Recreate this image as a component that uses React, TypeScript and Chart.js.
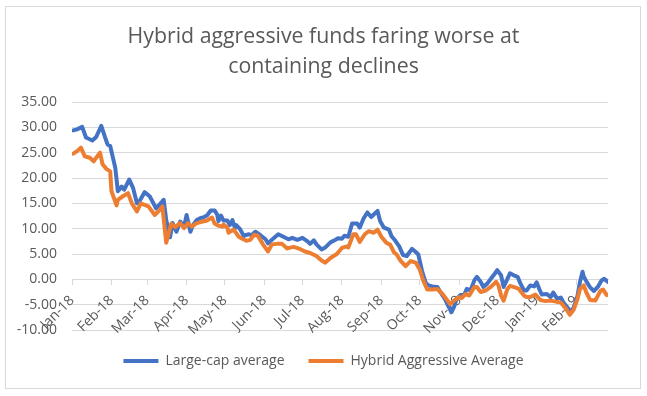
import React, { useEffect, useRef } from "react";
import { Chart, registerables } from "chart.js";

Chart.register(...registerables);

const MONTHS = ["Jan", "Feb", "Mar", "Apr", "May", "Jun", "Jul", "Aug", "Sep", "Oct", "Nov", "Dec"];
const START = Date.UTC(2018, 0, 1);
const DAY_MS = 86400000;

const titleLines = ["Hybrid aggressive funds faring worse at", "containing declines"];

const monthLabels = [
  "Jan-18", "Feb-18", "Mar-18", "Apr-18", "May-18", "Jun-18", "Jul-18",
  "Aug-18", "Sep-18", "Oct-18", "Nov-18", "Dec-18", "Jan-19", "Feb-19",
];

const yTickMin = -10;
const yTickMax = 35;
const yTickStep = 5;
const lastDay = 421; // days since 1 Jan 2018 (last data point)

// days since 1 Jan 2018
const largeCapDays = [
  1, 4, 8, 11, 16, 19, 23, 26, 28, 30, 34, 36, 39, 41, 45, 48, 51, 53, 57, 61,
  64, 66, 71, 72, 74, 77, 79, 82, 85, 88, 90, 93, 95, 98, 101, 103, 106, 109, 112, 114,
  115, 117, 119, 122, 124, 126, 128, 129, 132, 135, 136, 139, 141, 144, 148, 152, 154, 157, 162, 166,
  170, 173, 177, 181, 185, 187, 190, 192, 196, 199, 203, 207, 209, 212, 214, 217, 220, 224, 226, 229,
  232, 235, 237, 240, 242, 245, 249, 251, 254, 257, 260, 263, 267, 270, 272, 275, 278, 280, 283, 287,
  289, 293, 296, 298, 300, 302, 305, 308, 310, 313, 316, 318, 321, 323, 326, 329, 332, 334, 337, 339,
  342, 344, 347, 350, 352, 355, 357, 360, 363, 365, 367, 369, 373, 376, 378, 381, 384, 386, 389, 391,
  394, 397, 399, 401, 402, 404, 407, 410, 413, 416, 418, 421,
];
const largeCapValues = [
  29.4, 29.6, 30.1, 28.0, 27.4, 28.1, 30.3, 28.0, 26.6, 26.3, 22.0, 17.4, 18.3, 17.7, 19.7, 18.0, 15.0, 15.4, 17.2, 16.4,
  15.0, 14.0, 15.4, 15.7, 11.7, 8.3, 11.1, 9.4, 11.4, 10.4, 12.7, 9.4, 10.7, 11.7, 12.1, 12.2, 12.6, 13.6, 13.6, 12.8,
  11.5, 12.6, 11.6, 11.6, 10.7, 11.7, 10.1, 10.7, 9.9, 8.5, 8.7, 8.9, 8.7, 9.4, 8.7, 7.9, 7.1, 7.8, 8.9, 8.4,
  7.9, 8.2, 7.8, 8.2, 7.5, 7.0, 7.7, 6.9, 5.9, 6.3, 7.3, 7.8, 8.1, 8.0, 8.6, 8.4, 11.0, 11.0, 10.2, 12.0,
  13.2, 12.3, 12.8, 13.5, 11.5, 10.2, 9.8, 8.5, 7.6, 6.5, 4.8, 4.6, 6.0, 5.4, 4.9, 1.6, -0.8, -1.2, -1.4, -1.5,
  -2.4, -3.9, -5.5, -6.5, -5.5, -3.9, -3.1, -3.1, -1.9, -2.2, -0.2, 0.5, -0.5, -1.5, -0.9, 0.1, 1.1, 1.8, 0.8, -1.5,
  0.1, 1.2, 0.8, 0.5, -0.7, -2.2, -2.2, -1.2, -1.4, -0.6, -1.9, -3.0, -2.9, -3.5, -2.6, -3.8, -3.6, -4.6, -5.5, -6.7,
  -5.6, -3.3, -0.5, 1.5, 0.5, -0.4, -1.6, -2.3, -1.5, -0.2, 0.1, -0.5,
];

const hybridDays = [
  1, 4, 7, 10, 14, 17, 22, 24, 27, 30, 31, 35, 36, 40, 44, 47, 51, 54, 60, 65,
  69, 71, 74, 78, 81, 85, 88, 91, 94, 98, 101, 106, 110, 112, 115, 118, 119, 122, 123, 124,
  127, 131, 133, 137, 140, 143, 146, 150, 154, 157, 161, 165, 169, 174, 179, 183, 187, 192, 196, 199,
  203, 208, 212, 216, 217, 221, 223, 226, 230, 233, 237, 240, 243, 247, 250, 253, 255, 258, 262, 266,
  270, 273, 276, 279, 283, 287, 291, 295, 297, 300, 304, 306, 309, 312, 316, 318, 321, 325, 329, 333,
  335, 337, 339, 342, 344, 348, 351, 355, 357, 360, 364, 368, 372, 376, 380, 384, 388, 391, 394, 397,
  399, 402, 404, 407, 411, 415, 417, 420,
];
const hybridValues = [
  24.8, 25.3, 26.0, 24.3, 24.0, 23.3, 25.0, 22.7, 21.8, 21.3, 17.4, 14.6, 15.7, 16.4, 17.0, 15.0, 13.4, 15.0, 14.4, 12.7,
  13.7, 14.4, 7.2, 11.0, 10.3, 11.1, 10.1, 11.1, 10.4, 11.1, 11.3, 11.6, 12.2, 11.0, 10.6, 10.4, 10.8, 10.2, 9.2, 9.4,
  9.8, 8.4, 8.1, 7.6, 7.8, 8.8, 8.6, 6.9, 5.5, 6.9, 7.0, 7.0, 6.1, 6.4, 6.0, 5.5, 5.2, 4.6, 3.7, 3.3,
  4.2, 5.0, 6.2, 6.5, 6.3, 8.9, 8.9, 7.4, 8.9, 9.5, 9.2, 9.8, 8.4, 7.2, 6.8, 5.3, 4.9, 3.7, 2.6, 3.6,
  3.3, 2.0, -0.3, -2.0, -2.0, -1.9, -2.9, -4.2, -4.9, -4.2, -3.5, -3.7, -2.9, -3.2, -1.5, -1.5, -2.5, -2.2, -1.5, -0.5,
  -1.2, -3.2, -4.2, -1.9, -1.3, -1.6, -1.9, -3.2, -3.5, -3.5, -3.0, -4.1, -4.3, -4.2, -4.4, -4.6, -5.8, -7.0, -6.0, -3.9,
  -1.9, -1.2, -2.6, -4.1, -4.2, -2.3, -2.0, -3.1,
];

const TEXT = "#595959";
const GRID = "#d9d9d9";
const FONT = "'Open Sans', 'Noto Sans', sans-serif";

function labelToDay(label: string): number {
  const [mon, yy] = label.split("-");
  const t = Date.UTC(2000 + Number(yy), MONTHS.indexOf(mon), 1);
  return Math.round((t - START) / DAY_MS);
}

export default function App() {
  const ref = useRef<HTMLCanvasElement>(null);

  useEffect(() => {
    const tickDays = monthLabels.map(labelToDay);
    const chart = new Chart(ref.current as HTMLCanvasElement, {
      type: "line",
      data: {
        datasets: [
          {
            label: "Large-cap average",
            data: largeCapDays.map((d, i) => ({ x: d, y: largeCapValues[i] })),
            borderColor: "#4472C4",
            backgroundColor: "#4472C4",
            borderWidth: 4,
            pointRadius: 0,
            tension: 0,
            borderJoinStyle: "round",
            borderCapStyle: "round",
            order: 1,
          },
          {
            label: "Hybrid Aggressive Average",
            data: hybridDays.map((d, i) => ({ x: d, y: hybridValues[i] })),
            borderColor: "#ED7D31",
            backgroundColor: "#ED7D31",
            borderWidth: 4,
            pointRadius: 0,
            tension: 0,
            borderJoinStyle: "round",
            borderCapStyle: "round",
            order: 0,
          },
        ],
      },
      options: {
        animation: false,
        responsive: false,
        events: [],
        layout: { padding: { left: 0, right: 0, top: 0, bottom: 18 } },
        plugins: {
          title: {
            display: true,
            text: titleLines,
            color: TEXT,
            font: { family: FONT, size: 21.3, weight: "normal", lineHeight: 30 / 21.3 },
            padding: { top: 22, bottom: 20 },
          },
          legend: {
            position: "bottom",
            maxHeight: 50,
            labels: {
              usePointStyle: true,
              pointStyle: "line",
              pointStyleWidth: 35,
              padding: 24,
              color: TEXT,
              font: { family: FONT, size: 14 },
              sort: (a: any, b: any) => a.datasetIndex - b.datasetIndex,
            },
          },
          tooltip: { enabled: false },
        },
        scales: {
          x: {
            type: "linear",
            position: { y: 0 } as any,
            min: 0,
            max: lastDay,
            afterBuildTicks: (scale: any) => {
              scale.ticks = tickDays.map((v) => ({ value: v }));
            },
            ticks: {
              autoSkip: false,
              maxRotation: 45,
              minRotation: 45,
              padding: 8,
              color: TEXT,
              font: { family: FONT, size: 14 },
              callback: (value: any) => {
                const i = tickDays.indexOf(Number(value));
                return i >= 0 ? monthLabels[i] : "";
              },
            },
            grid: { drawOnChartArea: false, drawTicks: true, tickLength: 5, color: GRID },
            border: { display: true, color: GRID, width: 1 },
          },
          y: {
            min: yTickMin,
            max: yTickMax,
            afterFit: (scale: any) => {
              scale.width = 72;
            },
            ticks: {
              stepSize: yTickStep,
              padding: 15,
              color: TEXT,
              font: { family: FONT, size: 14 },
              callback: (v: any) => Number(v).toFixed(2),
            },
            grid: { color: GRID, drawTicks: false },
            border: { display: false },
          },
          yRight: {
            position: "right",
            min: yTickMin,
            max: yTickMax,
            afterFit: (scale: any) => {
              scale.width = 39;
            },
            ticks: { display: false },
            grid: { display: false },
            border: { display: false },
          },
        },
      },
    } as any);
    return () => chart.destroy();
  }, []);

  return (
    <div style={{ position: "absolute", left: 0, top: 0, width: 647, height: 396, background: "#fff" }}>
      <canvas ref={ref} width={647} height={396} style={{ display: "block", width: 647, height: 396 }} />
      <div
        style={{
          position: "absolute",
          left: 5,
          top: 6,
          width: 634,
          height: 381,
          border: "1px solid #d9d9d9",
          pointerEvents: "none",
        }}
      />
    </div>
  );
}
